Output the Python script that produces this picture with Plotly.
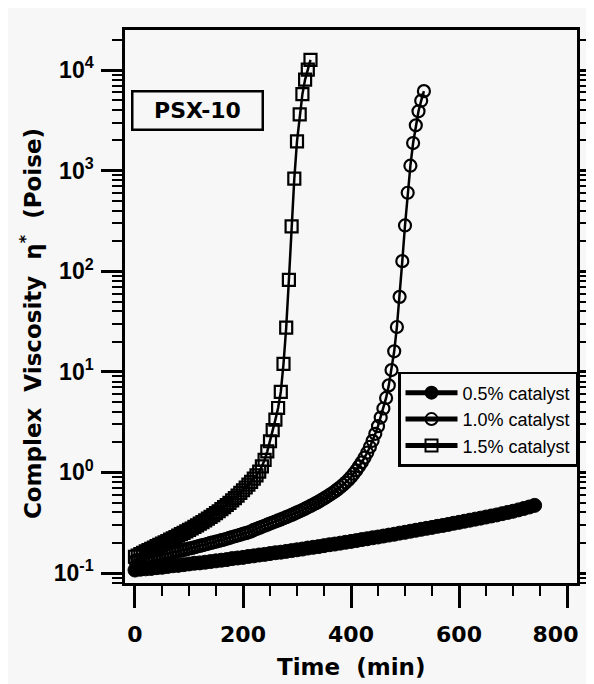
import plotly.graph_objects as go

# ---------------- data ----------------
series_names = ["0.5% catalyst", "1.0% catalyst", "1.5% catalyst"]

t_05 = [0, 10, 20, 30, 40, 50, 60, 70, 80, 90, 100, 110, 120, 130, 140, 150, 160, 170, 180, 190,
        200, 210, 220, 230, 240, 250, 260, 270, 280, 290, 300, 310, 320, 330, 340, 350, 360, 370, 380, 390,
        400, 410, 420, 430, 440, 450, 460, 470, 480, 490, 500, 510, 520, 530, 540, 550, 560, 570, 580, 590,
        600, 610, 620, 630, 640, 650, 660, 670, 680, 690, 700, 710, 720, 730, 740]
eta_05 = [0.107, 0.109, 0.110, 0.111, 0.113, 0.114, 0.116, 0.118, 0.119, 0.121, 0.123, 0.125, 0.126, 0.128,
          0.130, 0.132, 0.134, 0.136, 0.139, 0.141, 0.143, 0.146, 0.148, 0.151, 0.153, 0.156, 0.159, 0.161,
          0.164, 0.167, 0.170, 0.173, 0.177, 0.180, 0.183, 0.187, 0.191, 0.194, 0.198, 0.202, 0.206, 0.210,
          0.215, 0.219, 0.224, 0.228, 0.233, 0.238, 0.243, 0.249, 0.254, 0.260, 0.266, 0.272, 0.278, 0.284,
          0.291, 0.297, 0.304, 0.312, 0.319, 0.327, 0.335, 0.343, 0.351, 0.360, 0.369, 0.378, 0.389, 0.400,
          0.411, 0.424, 0.438, 0.453, 0.470]

t_10 = [0, 5, 10, 15, 20, 25, 30, 35, 40, 45, 50, 55, 60, 65, 70, 75, 80, 85, 90, 95,
        100, 105, 110, 115, 120, 125, 130, 135, 140, 145, 150, 155, 160, 165, 170, 175, 180, 185, 190, 195,
        200, 205, 210, 215, 220, 225, 230, 235, 240, 245, 250, 255, 260, 265, 270, 275, 280, 285, 290, 295,
        300, 305, 310, 315, 320, 325, 330, 335, 340, 345, 350, 355, 360, 365, 370, 375, 380, 385, 390, 395,
        400, 405, 410, 415, 420, 425, 430, 435, 440, 445, 450, 455, 460, 465, 470, 475, 480, 485, 490, 495,
        500, 505, 510, 515, 520, 525, 530, 535]
eta_10 = [0.132, 0.134, 0.136, 0.138, 0.140, 0.142, 0.144, 0.146, 0.148, 0.150, 0.152, 0.154, 0.156, 0.158,
          0.160, 0.163, 0.165, 0.167, 0.169, 0.172, 0.175, 0.177, 0.180, 0.183, 0.186, 0.189, 0.192, 0.195,
          0.199, 0.202, 0.205, 0.208, 0.212, 0.215, 0.219, 0.223, 0.228, 0.232, 0.236, 0.240, 0.245, 0.249,
          0.254, 0.259, 0.268, 0.274, 0.281, 0.288, 0.295, 0.302, 0.310, 0.317, 0.325, 0.333, 0.341, 0.350,
          0.359, 0.368, 0.378, 0.389, 0.400, 0.411, 0.423, 0.436, 0.450, 0.464, 0.479, 0.495, 0.512, 0.531,
          0.551, 0.572, 0.595, 0.620, 0.647, 0.678, 0.712, 0.750, 0.793, 0.842, 0.899, 0.970, 1.05, 1.15,
          1.26, 1.40, 1.57, 1.79, 2.06, 2.42, 2.88, 3.51, 4.32, 5.50, 7.33, 10.4, 16.0, 27.9, 55.6, 126,
          285, 603, 1120, 1880, 2820, 3890, 4960, 6170]

t_15 = [0, 5, 10, 15, 20, 25, 30, 35, 40, 45, 50, 55, 60, 65, 70, 75, 80, 85, 90, 95,
        100, 105, 110, 115, 120, 125, 130, 135, 140, 145, 150, 155, 160, 165, 170, 175, 180, 185, 190, 195,
        200, 205, 210, 215, 220, 225, 230, 235, 240, 245, 250, 255, 260, 265, 270, 275, 280, 285, 290, 295,
        300, 305, 310, 315, 320, 325]
eta_15 = [0.145, 0.149, 0.154, 0.159, 0.164, 0.169, 0.174, 0.179, 0.185, 0.191, 0.196, 0.202, 0.208, 0.215,
          0.221, 0.228, 0.235, 0.243, 0.251, 0.259, 0.268, 0.277, 0.287, 0.298, 0.309, 0.321, 0.333, 0.347,
          0.361, 0.377, 0.394, 0.411, 0.431, 0.452, 0.474, 0.499, 0.526, 0.556, 0.589, 0.625, 0.665, 0.708,
          0.755, 0.807, 0.867, 0.933, 1.02, 1.15, 1.33, 1.62, 2.04, 2.63, 3.35, 4.37, 6.31, 12.0, 27.5, 82.2,
          279, 832, 1950, 3630, 5750, 8040, 10100, 12600]

x_tick_vals = [0, 200, 400, 600, 800]
x_tick_text = ["0", "200", "400", "600", "800\u00a0\u00a0\u00a0"]
y_tick_vals = [0.1, 1, 10, 100, 1000, 10000]
y_tick_text = ["10<sup>-1</sup>", "10<sup>0</sup>", "10<sup>1</sup>", "10<sup>2</sup>",
               "10<sup>3</sup>", "10<sup>4</sup>"]
y_minor_vals = [k * 10.0 ** e for e in range(-2, 5) for k in range(2, 10)]

# ---------------- styling ----------------
BG = "#f7f7f7"
XFONT = dict(family="DejaVu Sans", size=22, color="black", weight="bold")
YFONT = dict(family="Liberation Sans", size=23, color="black", weight="bold")
TITLE_FONT = dict(family="DejaVu Sans", size=23, color="black", weight="bold")

fig = go.Figure()
fig.add_trace(go.Scatter(
    x=t_05, y=eta_05, name=series_names[0], mode="lines+markers",
    line=dict(color="black", width=2.5),
    marker=dict(symbol="circle", size=14, color="black", line=dict(color="black", width=1))))
fig.add_trace(go.Scatter(
    x=t_10, y=eta_10, name=series_names[1], mode="lines+markers",
    line=dict(color="black", width=2.5),
    marker=dict(symbol="circle-open", size=12, color="black", line=dict(color="black", width=2.2))))
fig.add_trace(go.Scatter(
    x=t_15, y=eta_15, name=series_names[2], mode="lines+markers",
    line=dict(color="black", width=2.5),
    marker=dict(symbol="square-open", size=12, color="black", line=dict(color="black", width=2.2))))

x_range = [-18.5, 818.5]

# the page body adds an 8 px offset, so the figure is 8 px smaller and margins shifted
fig.update_layout(
    width=586, height=676, autosize=False,
    margin=dict(l=117, r=17, t=22, b=101, pad=0),
    paper_bgcolor=BG, plot_bgcolor=BG,
    showlegend=True,
    legend=dict(x=0.604, y=0.3816, xanchor="left", yanchor="top",
                bgcolor=BG, bordercolor="black", borderwidth=2.5,
                font=dict(family="Liberation Sans", size=18, color="black"),
                tracegroupgap=0, itemwidth=52, itemsizing="constant"),
    xaxis=dict(range=x_range, tickmode="array", tickvals=x_tick_vals, ticktext=x_tick_text,
               automargin=False, ticklabeloverflow="allow",
               showline=True, linecolor="black", linewidth=2.5, mirror=True,
               ticks="outside", ticklen=22, tickwidth=2.5, tickcolor="black",
               minor=dict(dtick=50, tick0=0, ticks="outside", ticklen=10, tickwidth=2, tickcolor="black"),
               showgrid=False, zeroline=False, tickfont=XFONT, ticklabelstandoff=8),
    xaxis2=dict(range=x_range, overlaying="x", side="top", anchor="y", tick0=0, dtick=200,
                automargin=False,
                showline=False, ticks="outside", ticklen=12, tickwidth=2.5, tickcolor="black",
                minor=dict(dtick=50, tick0=0, ticks="outside", ticklen=7, tickwidth=2, tickcolor="black"),
                showticklabels=False, showgrid=False, zeroline=False),
    yaxis=dict(type="log", range=[-1.0994, 4.398], automargin=False, ticklabeloverflow="allow",
               tickmode="array", tickvals=y_tick_vals, ticktext=y_tick_text,
               showline=True, linecolor="black", linewidth=2.5, mirror="allticks",
               ticks="outside", ticklen=21, tickwidth=2.5, tickcolor="black",
               minor=dict(tickvals=y_minor_vals, ticks="outside", ticklen=10, tickwidth=2, tickcolor="black"),
               showgrid=False, zeroline=False, tickfont=YFONT, ticklabelstandoff=3),
    annotations=[
        dict(text="PSX-10", xref="paper", yref="paper", x=0.1615, y=0.8544,
             xanchor="center", yanchor="middle", showarrow=False,
             font=XFONT, bordercolor="black", borderwidth=2.5, borderpad=1,
             width=126, height=34, bgcolor=BG),
        dict(text="Time\u00a0\u00a0(min)", xref="paper", yref="paper", x=0.5, y=-0.152,
             xanchor="center", yanchor="middle", showarrow=False, font=TITLE_FONT),
        dict(text="Complex\u00a0\u00a0Viscosity\u00a0\u00a0\u03b7<sup>*</sup>\u00a0\u00a0(Poise)",
             xref="paper", yref="paper", x=-0.208, y=0.47, textangle=-90,
             xanchor="center", yanchor="middle", showarrow=False, font=TITLE_FONT),
    ],
)

fig.write_html("out.html", config={"displayModeBar": False})
